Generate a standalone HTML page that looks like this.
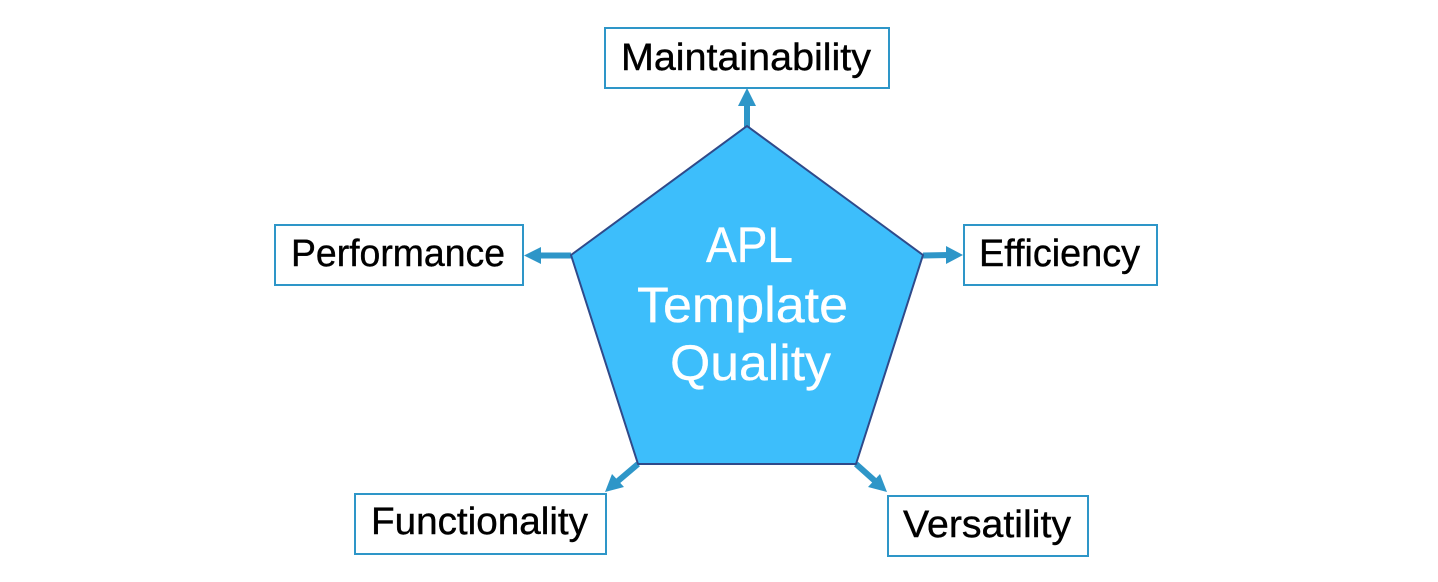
<!DOCTYPE html>
<html>
<head>
<meta charset="utf-8">
<style>
html,body{margin:0;padding:0;background:#fff;width:1438px;height:582px;overflow:hidden}
svg{display:block}
text{font-family:"Liberation Sans",sans-serif}
.l{font-size:38px;fill:#000;stroke:#000;stroke-width:0.4px}
.c{font-size:50px;fill:#fff;stroke:#fff;stroke-width:0.3px}
</style>
</head>
<body>
<svg width="1438" height="582" viewBox="0 0 1438 582" xmlns="http://www.w3.org/2000/svg">
<rect width="1438" height="582" fill="#fff"/>
<g fill="#fff" stroke="#2E96C8" stroke-width="2">
<rect x="605" y="28" width="284" height="60"/>
<rect x="275" y="225" width="248" height="60"/>
<rect x="964" y="225" width="193" height="60"/>
<rect x="355" y="494" width="251" height="60"/>
<rect x="888" y="496" width="200" height="60"/>
</g>
<g stroke="#2E96C8" stroke-width="6" fill="none">
<line x1="747" y1="128" x2="747" y2="104"/>
<line x1="571" y1="255.500" x2="538" y2="255.500"/>
<line x1="923" y1="255.500" x2="949" y2="255"/>
<line x1="638" y1="464" x2="618" y2="481"/>
<line x1="856" y1="464" x2="875" y2="481"/>
</g>
<g fill="#2E96C8">
<polygon points="747,88 756,106 738,106"/>
<polygon points="524,255.500 541,247 541,264"/>
<polygon points="963,255 946,246 946,264"/>
<polygon points="605,492 612,474 624,487"/>
<polygon points="887,492 868,487 880,474"/>
</g>
<polygon points="747,126 923,255 856,464 638,464 571,255" fill="#3DBEFB" stroke="#2F4A8A" stroke-width="2" stroke-linejoin="round"/>
<text class="l" x="621" y="70" textLength="250" lengthAdjust="spacingAndGlyphs">Maintainability</text>
<text class="l" x="291" y="266" textLength="214" lengthAdjust="spacingAndGlyphs">Performance</text>
<text class="l" x="979" y="266" textLength="161" lengthAdjust="spacingAndGlyphs">Efficiency</text>
<text class="l" x="371" y="534" textLength="217" lengthAdjust="spacingAndGlyphs">Functionality</text>
<text class="l" x="903" y="537" textLength="168" lengthAdjust="spacingAndGlyphs">Versatility</text>
<text class="c" x="706" y="262" textLength="87" lengthAdjust="spacingAndGlyphs">APL</text>
<text class="c" x="637" y="322" textLength="211" lengthAdjust="spacingAndGlyphs">Template</text>
<text class="c" x="670" y="380" textLength="161" lengthAdjust="spacingAndGlyphs">Quality</text>
</svg>
</body>
</html>
